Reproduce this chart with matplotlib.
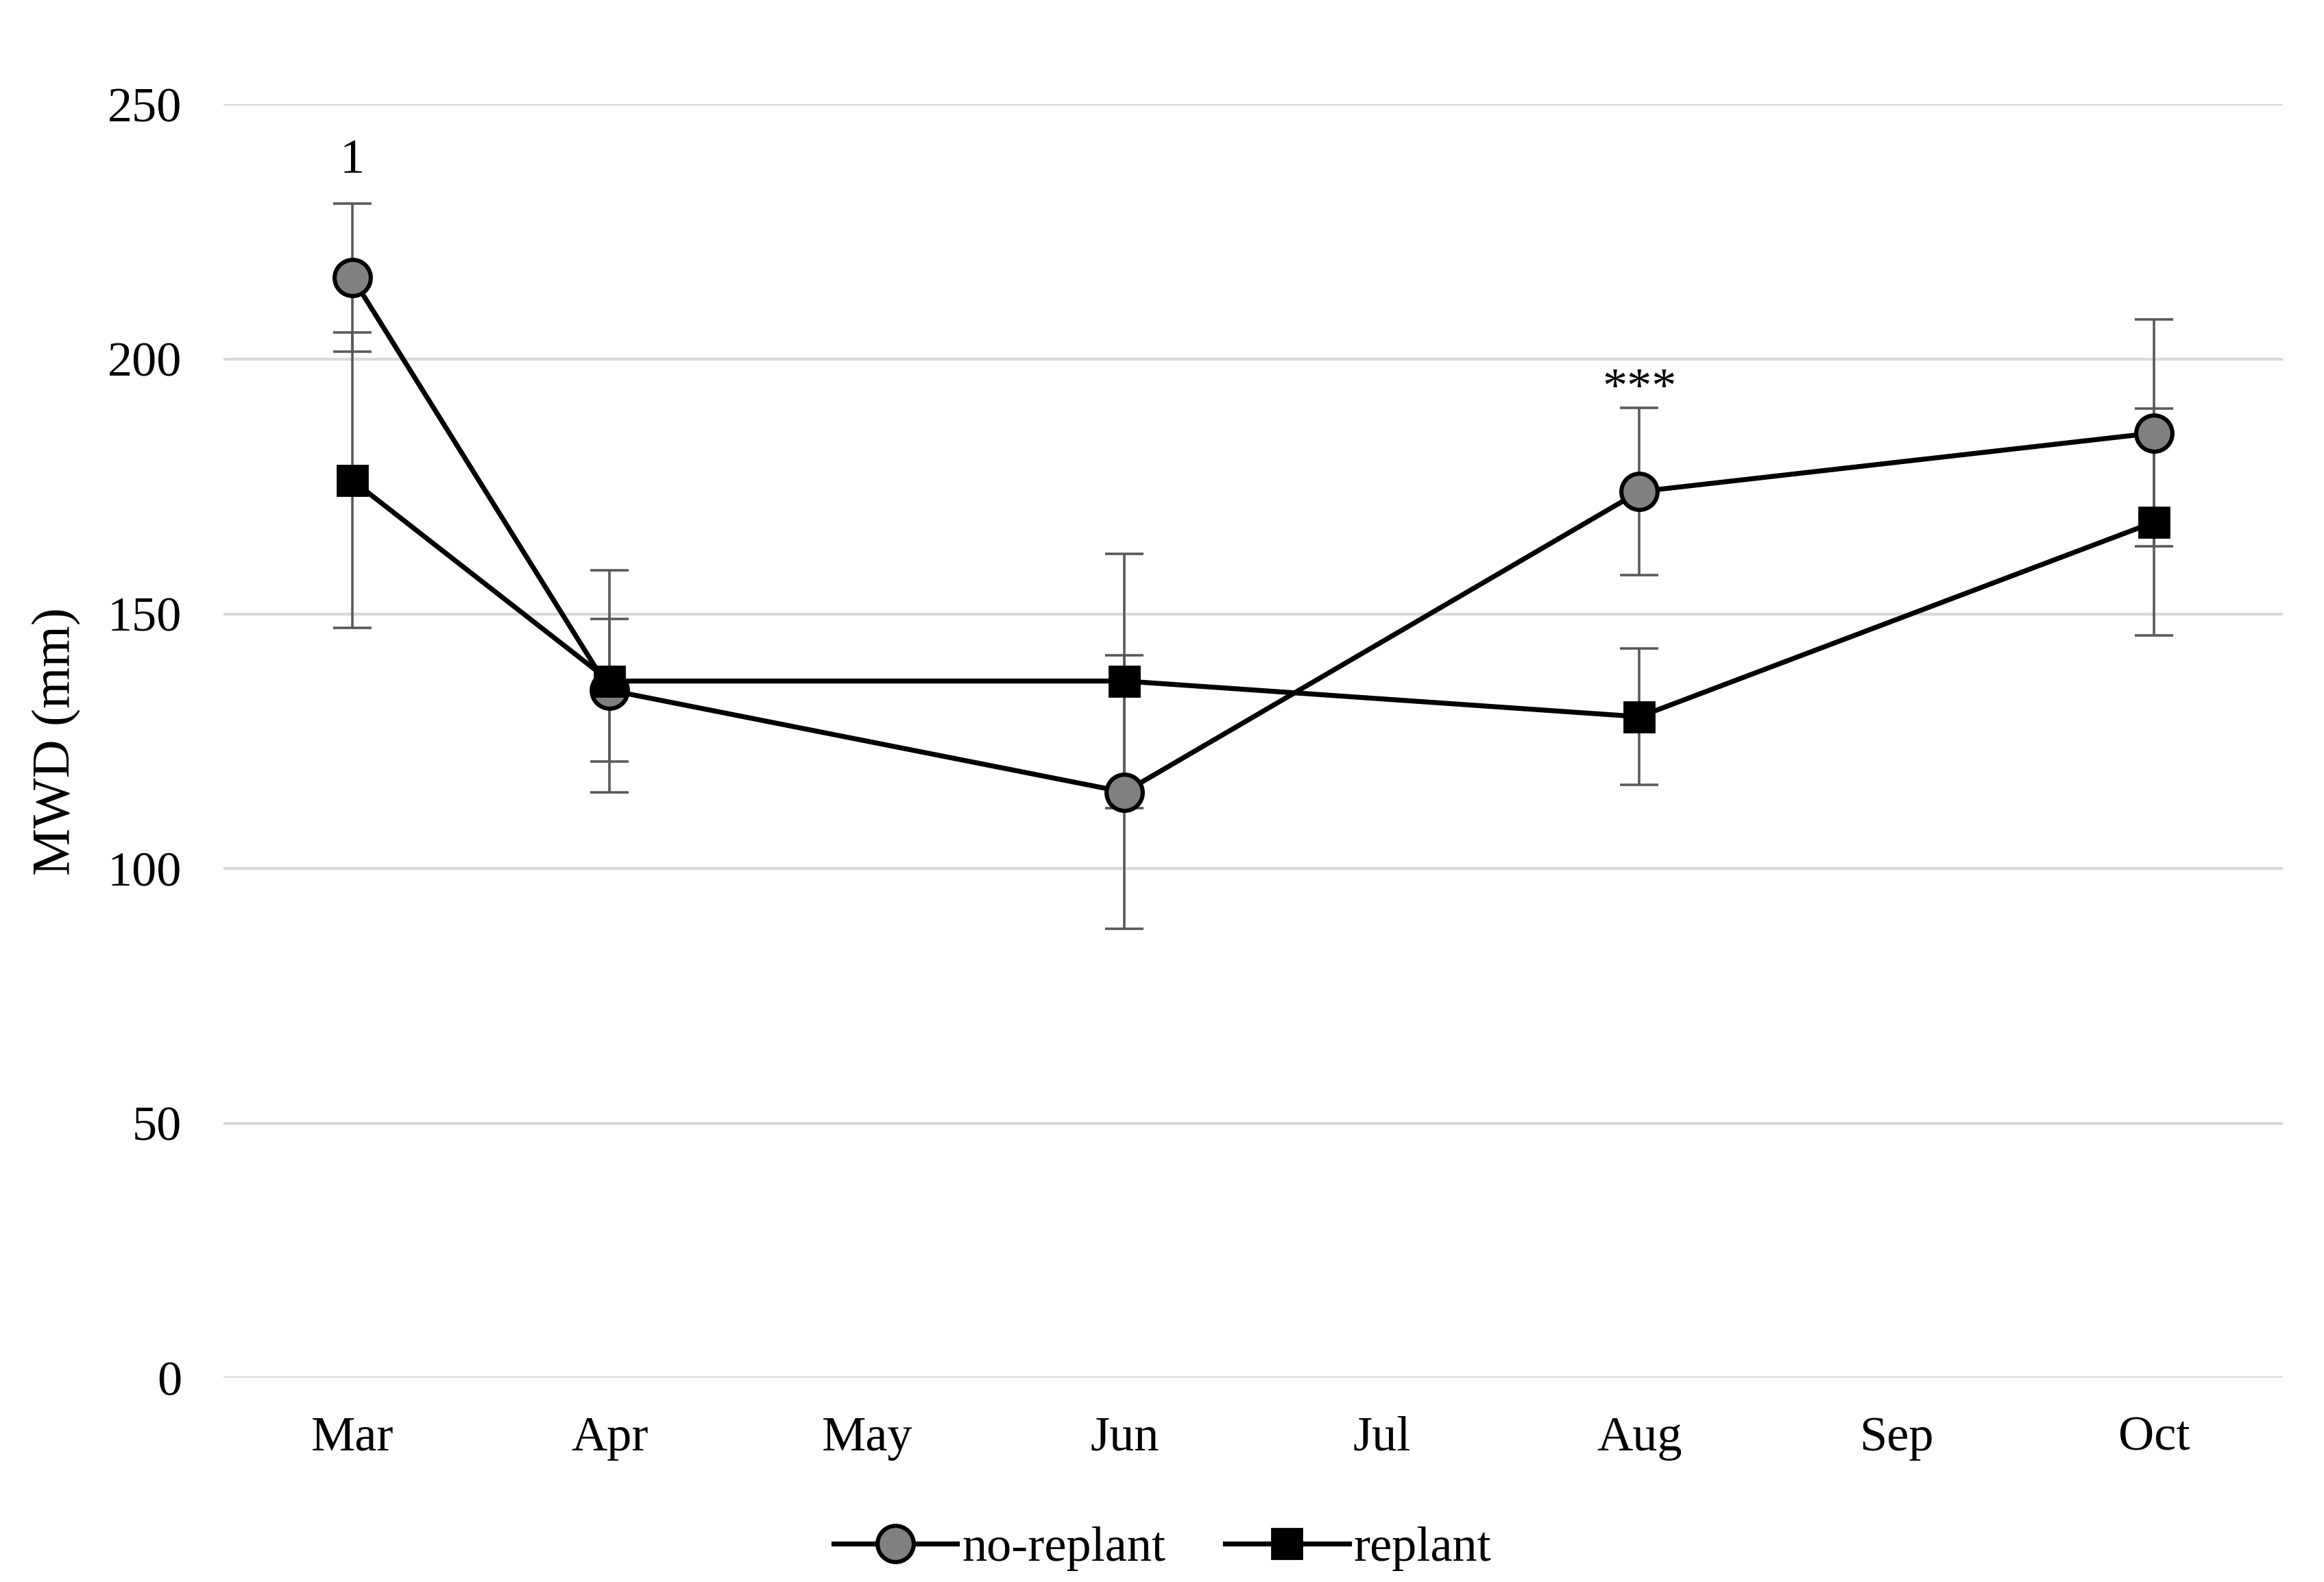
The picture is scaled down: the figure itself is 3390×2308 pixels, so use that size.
import matplotlib
matplotlib.use("Agg")
import matplotlib.pyplot as plt
import numpy as np

months = ["Mar", "Apr", "May", "Jun", "Jul", "Aug", "Sep", "Oct"]
sample_months = ["Mar", "Apr", "Jun", "Aug", "Oct"]
no_replant = [216.0, 135.0, 115.0, 174.0, 185.5]
no_replant_err = [14.5, 14.0, 26.8, 16.4, 22.3]
replant = [176.2, 136.8, 136.8, 129.8, 168.0]
replant_err = [29.0, 21.8, 25.0, 13.4, 22.3]
yticks = [0, 50, 100, 150, 200, 250]
annotations = [("Mar", 239, "1"), ("Aug", 194, "***")]

plt.rcParams['font.family'] = ['Liberation Serif', 'DejaVu Serif']

fig = plt.figure(figsize=(16.955, 11.54), dpi=200)
ax = fig.add_axes([0.0962, 0.129, 0.982 - 0.0962, 0.934 - 0.129])

xpos = {m: i for i, m in enumerate(months)}
xs = [xpos[m] for m in sample_months]

ax.errorbar(xs, no_replant, yerr=no_replant_err, fmt='none', ecolor='#595959',
            elinewidth=1.3, capsize=10, capthick=1.3, zorder=2)
ax.errorbar(xs, replant, yerr=replant_err, fmt='none', ecolor='#595959',
            elinewidth=1.3, capsize=10, capthick=1.3, zorder=2)
ax.plot(xs, no_replant, color='black', lw=2.6, marker='o', markersize=19,
        markerfacecolor='#808080', markeredgecolor='black', markeredgewidth=2.2,
        label='no-replant', zorder=3)
ax.plot(xs, replant, color='black', lw=2.6, marker='s', markersize=16,
        markerfacecolor='black', markeredgecolor='black',
        label='replant', zorder=4)

for m, y, t in annotations:
    ax.text(xpos[m], y, t, ha='center', va='center', fontsize=26)

ax.set_xlim(-0.5, len(months) - 0.5)
ax.set_ylim(0, 250)
ax.set_yticks(yticks)
ax.set_xticks(range(len(months)))
ax.set_xticklabels(months)
ax.grid(axis='y', color='#d9d9d9', lw=1.5)
ax.set_axisbelow(True)
for s in ax.spines.values():
    s.set_visible(False)
ax.tick_params(axis='both', length=0, labelsize=26)
ax.tick_params(axis='y', pad=22)
ax.tick_params(axis='x', pad=20)
ax.set_ylabel("MWD (mm)", fontsize=28, labelpad=14)

fig.legend(loc='center', bbox_to_anchor=(0.5, 0.021), ncol=2, frameon=False,
           fontsize=26, handlelength=2.5, columnspacing=1.2, handletextpad=0.1)

fig.savefig("out.png", dpi=200)
